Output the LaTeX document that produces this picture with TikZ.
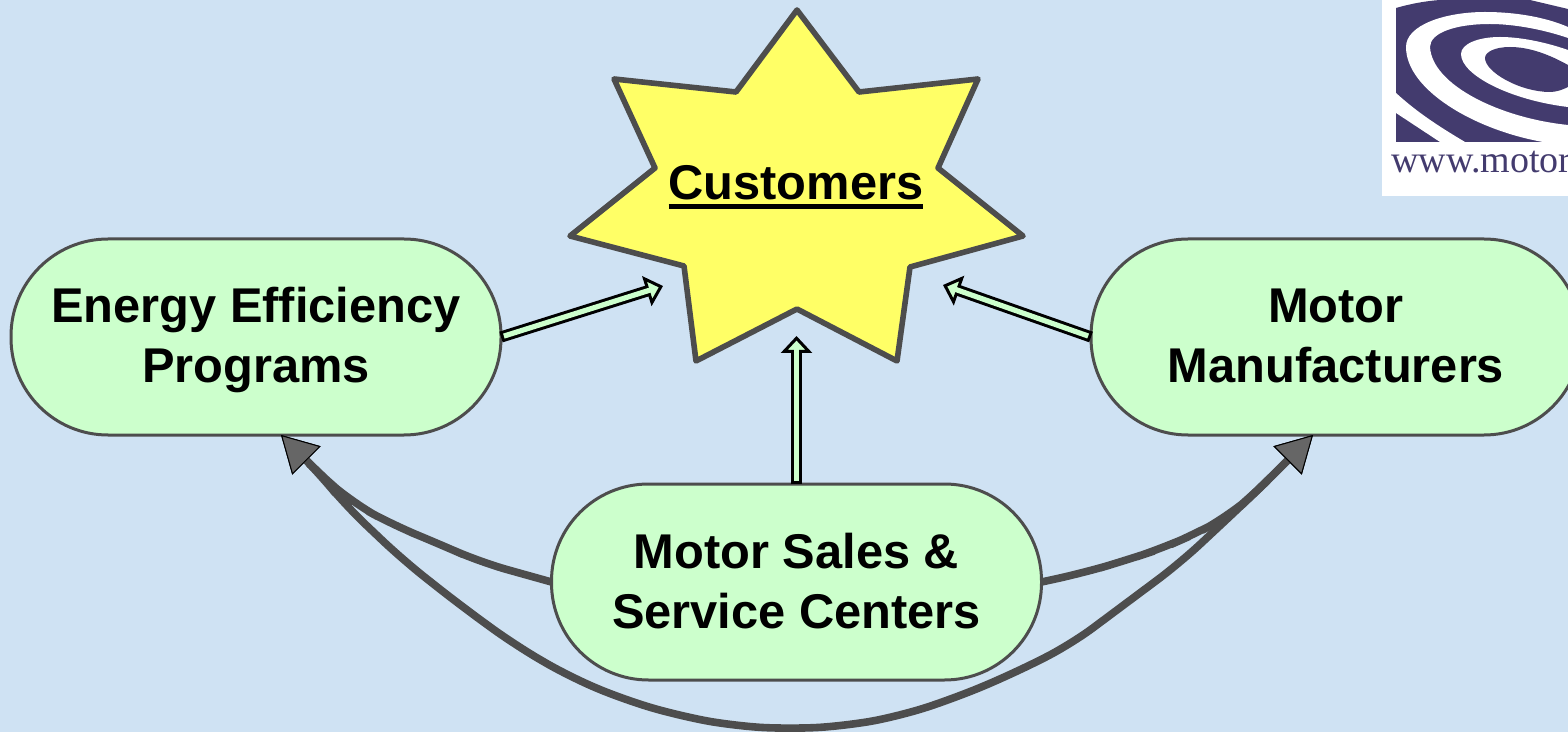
\documentclass[tikz,border=0pt]{standalone}
\usepackage{fontspec}
\setmainfont{Liberation Sans}
\newfontfamily\logofont{Liberation Serif}
\usetikzlibrary{arrows.meta}
\definecolor{bgblue}{HTML}{CFE2F3}
\definecolor{pillgreen}{HTML}{CCFFCC}
\definecolor{edgegrey}{HTML}{4D4D4D}
\definecolor{tipgrey}{HTML}{666666}
\definecolor{starfill}{HTML}{FFFF66}
\definecolor{logoblue}{HTML}{433B6E}
\newcommand\heavyul[1]{\leavevmode\setbox0=\hbox{#1}\rlap{\rule[-4.5pt]{\wd0}{2.7pt}}\box0}
\newcommand\lineph{\vphantom{Eg}}
\newcommand\topph{\rule{0pt}{20.6pt}}
\newcommand\toppht{\rule{0pt}{21.4pt}}
\tikzset{
  pill/.style={draw=edgegrey,fill=pillgreen,line width=1.5pt,rounded corners=48.5pt,
    minimum width=245pt,minimum height=98pt,align=center,inner sep=0pt,outer sep=0pt,
    font=\fontsize{24.4}{30}\selectfont\bfseries},
  hollowarrow/.style={draw=black,line width=5.6pt,
    -{Triangle[length=8.5pt,width=15.5pt,fill=pillgreen,color=black,line width=1.5pt,sep=0pt]},
    postaction={draw=pillgreen,line width=2.6pt,-,shorten <=1.5pt,shorten >=6.5pt}},
  flowtip/.tip={Triangle[length=18pt,width=20pt,fill=tipgrey,color=black,line width=.5pt]},
  flow/.style={draw=edgegrey,line width=3.8pt,line join=round,rounded corners=14pt,-{flowtip}},
  flowboth/.style={draw=edgegrey,line width=3.8pt,line join=round,rounded corners=14pt,{flowtip}-{flowtip}},
}
\begin{document}
\begin{tikzpicture}[x=.5pt,y=-.5pt]
\useasboundingbox (0,0) rectangle (1568,732);
\clip (0,0) rectangle (1568,732);
\fill[bgblue] (0,0) rectangle (1568,732);
% logo
\fill[white] (1382,0) rectangle (1568,196);
\begin{scope}
\clip (1396,0) rectangle (1568,141.5);
\fill[logoblue] (1396,8) .. controls (1410,4) and (1425,1) .. (1440,0) -- (1530,0) -- (1568,9) -- (1568,142) -- (1396,142) -- cycle;
\fill[white] (1543,142) .. controls (1475,130) and (1406,90) .. (1406,47) .. controls (1406,25) and (1445,12) .. (1485,12) .. controls (1515,12) and (1545,17) .. (1568,27)
  -- (1568,38) .. controls (1545,30) and (1515,24) .. (1490,24) .. controls (1455,24) and (1430,33) .. (1430,47) .. controls (1432,85) and (1500,118) .. (1568,125)
  -- (1568,142) -- cycle;
\fill[white] (1396,93) .. controls (1420,115) and (1445,130) .. (1465,142) -- (1440,142) -- (1396,113) -- cycle;
\fill[white] (1568,50) .. controls (1545,42) and (1520,37) .. (1500,37) .. controls (1478,37) and (1461,44) .. (1461,54) .. controls (1461,75) and (1510,100) .. (1568,107) -- cycle;
\fill[logoblue] (1568,65) .. controls (1550,55) and (1530,47) .. (1510,47) .. controls (1495,47) and (1485,52) .. (1485,58) .. controls (1485,72) and (1520,92) .. (1550,92) .. controls (1556,92) and (1562,90) .. (1568,87) -- cycle;
\end{scope}
\begin{scope}
\clip (1382,0) rectangle (1568,196);
\node[anchor=base west,inner sep=0pt,text=logoblue,font=\logofont\fontsize{19}{19}\selectfont] (logotext) at (1391,173) {www.motor};
\end{scope}
% star
\draw[edgegrey,fill=starfill,line width=2.8pt,line join=round]
  (797,10) -- (859,92) -- (978,79) -- (938,168) -- (1023,236) -- (910,267) -- (897,361) -- (797,309)
  -- (696,361) -- (684,266) -- (570,236) -- (655,168) -- (614,79) -- (736,92) -- cycle;
\node[anchor=base,inner sep=0pt,font=\fontsize{24.4}{30}\selectfont\bfseries] (cust) at (796,200) {\heavyul{Customers}};
% pills
\node[pill] (eff) at (256,337) {\topph Energy Efficiency\\\lineph Programs};
\node[pill] (man) at (1336,337) {\topph Motor\\\lineph Manufacturers};
\node[pill] (sales) at (796.5,582) {\toppht Motor Sales \&\\\lineph Service Centers};
% free ends
\coordinate (inL) at (663,286);
\coordinate (inR) at (943,285);
\coordinate (inB) at (796.5,336);
\coordinate (effB) at (281,435);
\coordinate (manB) at (1313,435);
% hollow arrows
\draw[hollowarrow] (eff.east) -- (inL);
\draw[hollowarrow] (man.west) -- (inR);
\draw[hollowarrow] (sales.north) -- (inB);
% curved arrows
\draw[flow] (sales.west) -- (480,562) -- (437,543) -- (393,525) -- (353,503) -- (330,483) -- (318,472) -- (effB);
\draw[flow] (sales.east) -- (1083,573) -- (1127,560) -- (1163,548) -- (1197,533) -- (1227,517) -- (1247,500) -- (1262,486) -- (manB);
\draw[flowboth] (effB) -- (318,472) -- (345,505) -- (403,560) -- (460,605) -- (515,645) -- (570,677) -- (625,700) -- (680,716) -- (735,726) -- (790,729)
  -- (845,726) -- (900,716) -- (955,698) -- (1010,675) -- (1070,645) -- (1117,610) -- (1180,563) -- (1240,507) -- (1262,486) -- (manB);
\end{tikzpicture}
\end{document}
